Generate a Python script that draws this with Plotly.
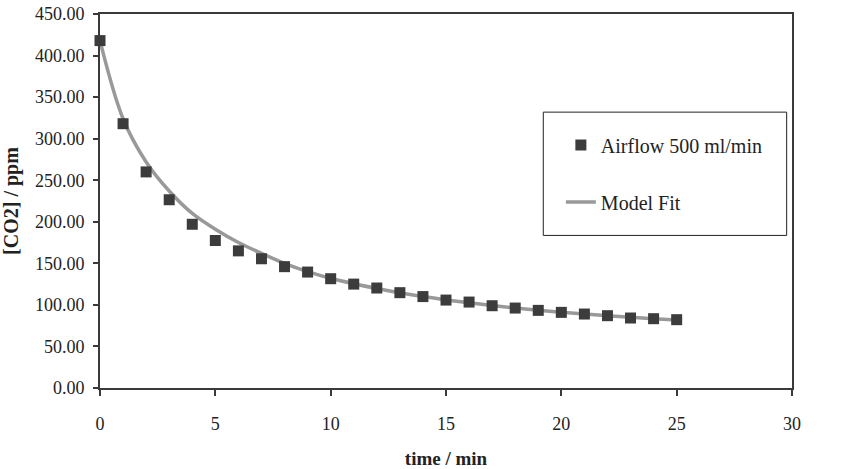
import plotly.graph_objects as go

time_min = list(range(0, 26))
airflow_ppm = [418, 318, 260, 226.5, 197, 177.5, 165, 155.5, 146, 139.5, 131.5, 125,
               120.3, 114.7, 110, 105.8, 103.4, 99, 96.2, 93.4, 91, 89, 87, 84.2, 83.4, 82.2]
model_ppm = [418, 324, 272, 237, 210, 191, 175, 162, 150, 140, 132, 125.5, 119.8,
             114.6, 110, 106, 102.5, 99.2, 96.3, 93.6, 91.2, 89, 87, 85, 83.3, 81.8]

xticks = [0, 5, 10, 15, 20, 25, 30]
yticks = [0, 50, 100, 150, 200, 250, 300, 350, 400, 450]

FONT = "Liberation Serif, Times New Roman, serif"
INK = "#222222"

fig = go.Figure()
fig.add_trace(go.Scatter(
    x=time_min, y=model_ppm, mode="lines", name="Model Fit",
    line=dict(color="#999999", width=3.5, shape="spline"),
    legendgroup="b", legendrank=2, cliponaxis=False,
))
fig.add_trace(go.Scatter(
    x=time_min, y=airflow_ppm, mode="markers", name="Airflow 500 ml/min",
    marker=dict(symbol="square", size=11, color="#3c3c3c", line=dict(width=0)),
    legendgroup="a", legendrank=1, cliponaxis=False,
))

# legend frame
fig.add_shape(type="rect", xref="paper", yref="paper",
              x0=0.6406, x1=0.9923, y0=0.408, y1=0.7376,
              line=dict(color=INK, width=1), fillcolor="white", layer="below")

fig.update_layout(
    width=852, height=469,
    margin=dict(l=100, r=60, t=13.5, b=81.3),
    paper_bgcolor="white", plot_bgcolor="white",
    font=dict(family=FONT, size=18, color=INK),
    showlegend=True,
    legend=dict(
        x=0.666, y=0.702, xanchor="left", yanchor="top",
        borderwidth=0, bgcolor="rgba(0,0,0,0)",
        font=dict(family=FONT, size=20, color=INK),
        traceorder="grouped", tracegroupgap=28,
        itemwidth=30,
    ),
    xaxis=dict(
        range=[0, 30], tickvals=xticks, ticktext=[str(v) for v in xticks],
        showgrid=False, zeroline=False, automargin=False,
        showline=True, linecolor="#3a3a3a", linewidth=2, mirror=True,
        ticks="outside", ticklen=6, tickwidth=2, tickcolor="#3a3a3a",
        ticklabelstandoff=12, ticklabeloverflow="allow",
        tickfont=dict(family=FONT, size=18, color=INK),
        title=dict(text="<b>time / min</b>", font=dict(family=FONT, size=19, color=INK), standoff=21),
    ),
    yaxis=dict(
        range=[0, 450], tickvals=yticks, tickformat=".2f",
        showgrid=False, zeroline=False, automargin=False,
        showline=True, linecolor="#3a3a3a", linewidth=2, mirror=True,
        ticks="outside", ticklen=5, tickwidth=2, tickcolor="#3a3a3a",
        ticklabelstandoff=5, ticklabeloverflow="allow",
        tickfont=dict(family=FONT, size=18, color=INK),
        title=dict(text="<b>[CO2] / ppm</b>", font=dict(family=FONT, size=20, color=INK), standoff=13),
    ),
)

# remove the page's default 8px body margin so the figure fills the window exactly
fig.write_html("out.html", config={"displayModeBar": False},
               post_script="document.body.style.margin='0';")
